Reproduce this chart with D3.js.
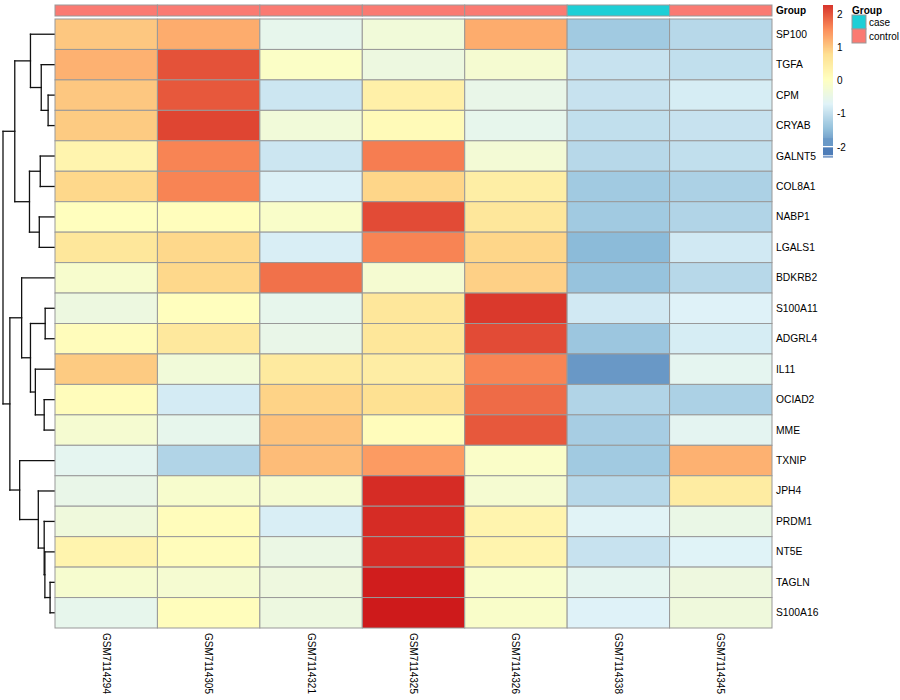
<!DOCTYPE html>
<html>
<head>
<meta charset="utf-8">
<script src="https://cdn.jsdelivr.net/npm/d3@7"></script>
<style>
  html, body { margin: 0; padding: 0; background: #fff; }
  svg { display: block; font-family: "Liberation Sans", Arial, Helvetica, sans-serif; }
</style>
</head>
<body>
<svg id="chart" width="900" height="700"></svg>
<script>
// ---------------- DATA ----------------
const genes = ["SP100","TGFA","CPM","CRYAB","GALNT5","COL8A1","NABP1","LGALS1","BDKRB2","S100A11",
               "ADGRL4","IL11","OCIAD2","MME","TXNIP","JPH4","PRDM1","NT5E","TAGLN","S100A16"];
const samples = ["GSM7114294","GSM7114305","GSM7114321","GSM7114325","GSM7114326","GSM7114338","GSM7114345"];
const sampleGroup = ["control","control","control","control","control","case","control"];
const groupLevels = ["case","control"];
const groupColors = ["#1DCFD6","#FA7A72"];

// z-scores per sample (rows in gene order)
const GSM7114294 = [1.0, 1.2, 1.0, 0.97, 0.3, 0.85, 0.05, 0.6, -0.15, -0.4, 0.1, 0.97, 0.1, -0.2, -0.6, -0.5, -0.35, 0.3, -0.18, -0.55];
const GSM7114305 = [1.25, 2.0, 1.95, 2.1, 1.6, 1.6, 0.08, 0.85, 0.85, 0.05, 0.58, -0.3, -0.82, -0.55, -1.15, -0.15, 0.1, 0.1, -0.2, 0.08];
const GSM7114321 = [-0.55, -0.05, -0.9, -0.3, -0.9, -0.75, -0.1, -0.78, 1.75, -0.55, -0.5, 0.55, 0.9, 1.05, 1.1, -0.2, -0.78, -0.45, -0.38, -0.4];
const GSM7114325 = [-0.3, -0.4, 0.4, 0.15, 1.65, 0.87, 2.05, 1.6, -0.2, 0.6, 0.62, 0.47, 0.75, 0.1, 1.4, 2.3, 2.3, 2.3, 2.42, 2.45];
const GSM7114326 = [1.25, -0.2, -0.5, -0.55, -0.25, 0.45, 0.6, 0.87, 0.92, 2.2, 2.05, 1.6, 1.8, 1.95, -0.08, -0.2, 0.3, 0.3, -0.12, -0.1];
const GSM7114338 = [-1.3, -0.95, -0.95, -1.0, -1.1, -1.3, -1.3, -1.5, -1.4, -0.85, -1.35, -1.85, -1.15, -1.25, -1.3, -1.1, -0.68, -0.95, -0.6, -0.72];
const GSM7114345 = [-1.1, -1.0, -0.8, -0.95, -1.0, -1.2, -1.15, -0.85, -1.1, -0.72, -0.8, -0.6, -1.2, -0.62, 1.2, 0.5, -0.48, -0.7, -0.38, -0.35];
const sampleValues = [GSM7114294, GSM7114305, GSM7114321, GSM7114325, GSM7114326, GSM7114338, GSM7114345];

// row dendrogram (hclust-style merges: negative = leaf -(index+1), positive = earlier merge number)
const mergeLeft   = [-3, -2, -1, -5, -7, 4, 3, -10, -13, -12, 8, -9, -19, -18, -17, -16, -15, 12, 7];
const mergeRight  = [-4,  1,  2, -6, -8, 5, 6, -11, -14,   9, 10, 11, -20, 13, 14, 15, 16, 17, 18];
const mergeHeight = [ 6, 13, 24, 14, 15, 25, 40, 9, 10, 19, 24, 33, 4, 9.3, 10, 16, 35, 45, 52];

// colour legend
const paletteColors = ["#4575B4","#91BFDB","#E0F3F8","#FFFFBF","#FEE090","#FC8D59","#D73027"];
const valueMin = -2.2, valueMax = 2.27;
const legendTicks = [2, 1, 0, -1, -2];

// ---------------- DRAW ----------------
const svg = d3.select("#chart");
const hmLeft = 55, hmRight = 772, hmTop = 19, hmBottom = 628;
const annTop = 5, annBottom = 16;

const x = d3.scaleBand().domain(samples).range([hmLeft, hmRight]).padding(0);
const y = d3.scaleBand().domain(genes).range([hmTop, hmBottom]).padding(0);
const color = d3.scaleLinear()
  .domain(d3.range(paletteColors.length).map(i => valueMin + i * (valueMax - valueMin) / (paletteColors.length - 1)))
  .range(paletteColors)
  .interpolate(d3.interpolateRgb);
const groupColor = d3.scaleOrdinal().domain(groupLevels).range(groupColors);

// cells
const cells = [];
samples.forEach((s, j) => genes.forEach((g, i) => cells.push({ s, g, v: sampleValues[j][i] })));
svg.append("g").selectAll("rect").data(cells).join("rect")
  .attr("x", d => x(d.s)).attr("y", d => y(d.g))
  .attr("width", x.bandwidth()).attr("height", y.bandwidth())
  .attr("fill", d => color(d.v))
  .attr("stroke", "#999").attr("stroke-width", 1);

// annotation bar
svg.append("g").selectAll("rect").data(samples).join("rect")
  .attr("x", d => x(d)).attr("y", annTop)
  .attr("width", x.bandwidth()).attr("height", annBottom - annTop)
  .attr("fill", (d, i) => groupColor(sampleGroup[i]))
  .attr("stroke", "#999").attr("stroke-width", 1);

svg.append("text").attr("x", hmRight + 4).attr("y", (annTop + annBottom) / 2)
  .attr("dominant-baseline", "central").attr("font-size", 10).attr("font-weight", "bold")
  .text("Group");

// row labels
svg.append("g").selectAll("text").data(genes).join("text")
  .attr("x", hmRight + 4).attr("y", d => y(d) + y.bandwidth() / 2)
  .attr("dominant-baseline", "central").attr("font-size", 10.3)
  .text(d => d);

// column labels
svg.append("g").selectAll("text").data(samples).join("text")
  .attr("transform", d => `translate(${x(d) + x.bandwidth() / 2},${hmBottom + 5}) rotate(90)`)
  .attr("dominant-baseline", "central").attr("font-size", 10)
  .text(d => d);

// dendrogram
const hx = d3.scaleLinear().domain([0, d3.max(mergeHeight)]).range([hmLeft - 1, 3]);
const nodeY = [];
function childPos(c) {
  if (c < 0) { const g = genes[-c - 1]; return { x: hx(0), y: y(g) + y.bandwidth() / 2 }; }
  return { x: hx(mergeHeight[c - 1]), y: nodeY[c - 1] };
}
const segs = [];
mergeLeft.forEach((l, k) => {
  const a = childPos(l), b = childPos(mergeRight[k]);
  const nx = hx(mergeHeight[k]);
  nodeY[k] = (a.y + b.y) / 2;
  segs.push([a.x, a.y, nx, a.y], [b.x, b.y, nx, b.y], [nx, a.y, nx, b.y]);
});
svg.append("g").selectAll("line").data(segs).join("line")
  .attr("x1", d => d[0]).attr("y1", d => d[1]).attr("x2", d => d[2]).attr("y2", d => d[3])
  .attr("stroke", "#111").attr("stroke-width", 1.3).attr("stroke-linecap", "square");

// colour legend
const legX = 823, legW = 10;
const ly = d3.scaleLinear().domain([2, -2]).range([14, 147]);
const lg = svg.append("g");
const contBottom = ly(-1.7);
const steps = d3.range(ly(valueMax), contBottom, 1);
lg.selectAll("rect.g").data(steps).join("rect").attr("class", "g")
  .attr("x", legX).attr("y", d => d).attr("width", legW).attr("height", 1.05)
  .attr("fill", d => color(ly.invert(d + 0.5)));
const blocks = [[-1.7, -1.97], [-1.98, -2.25]];
lg.selectAll("rect.b").data(blocks).join("rect").attr("class", "b")
  .attr("x", legX).attr("y", d => ly(d[0]) + 1).attr("width", legW)
  .attr("height", d => ly(d[1]) - ly(d[0]) - 1)
  .attr("fill", d => color((d[0] + d[1]) / 2));
lg.append("rect").attr("x", legX).attr("y", ly(-2.25) + 1).attr("width", legW).attr("height", 1.2)
  .attr("fill", color(valueMin));
const axis = d3.axisRight(ly).tickValues(legendTicks).tickSize(0).tickPadding(4).tickFormat(d => String(d));
const ag = svg.append("g").attr("transform", `translate(${legX + legW},0)`).call(axis);
ag.select(".domain").remove();
ag.selectAll("text").attr("font-size", 10).attr("fill", "#000")
  .attr("font-family", "'Liberation Sans', Arial, Helvetica, sans-serif");

// group legend
const gx = 852;
svg.append("text").attr("x", gx).attr("y", 10).attr("dominant-baseline", "central")
  .attr("font-size", 10).attr("font-weight", "bold").text("Group");
const gl = svg.append("g").selectAll("g").data(groupLevels).join("g")
  .attr("transform", (d, i) => `translate(${gx},${15 + i * 14})`);
gl.append("rect").attr("width", 14).attr("height", 14)
  .attr("fill", d => groupColor(d)).attr("stroke", "#999").attr("stroke-width", 1);
gl.append("text").attr("x", 17).attr("y", 7).attr("dominant-baseline", "central")
  .attr("font-size", 10).text(d => d);
</script>
</body>
</html>
